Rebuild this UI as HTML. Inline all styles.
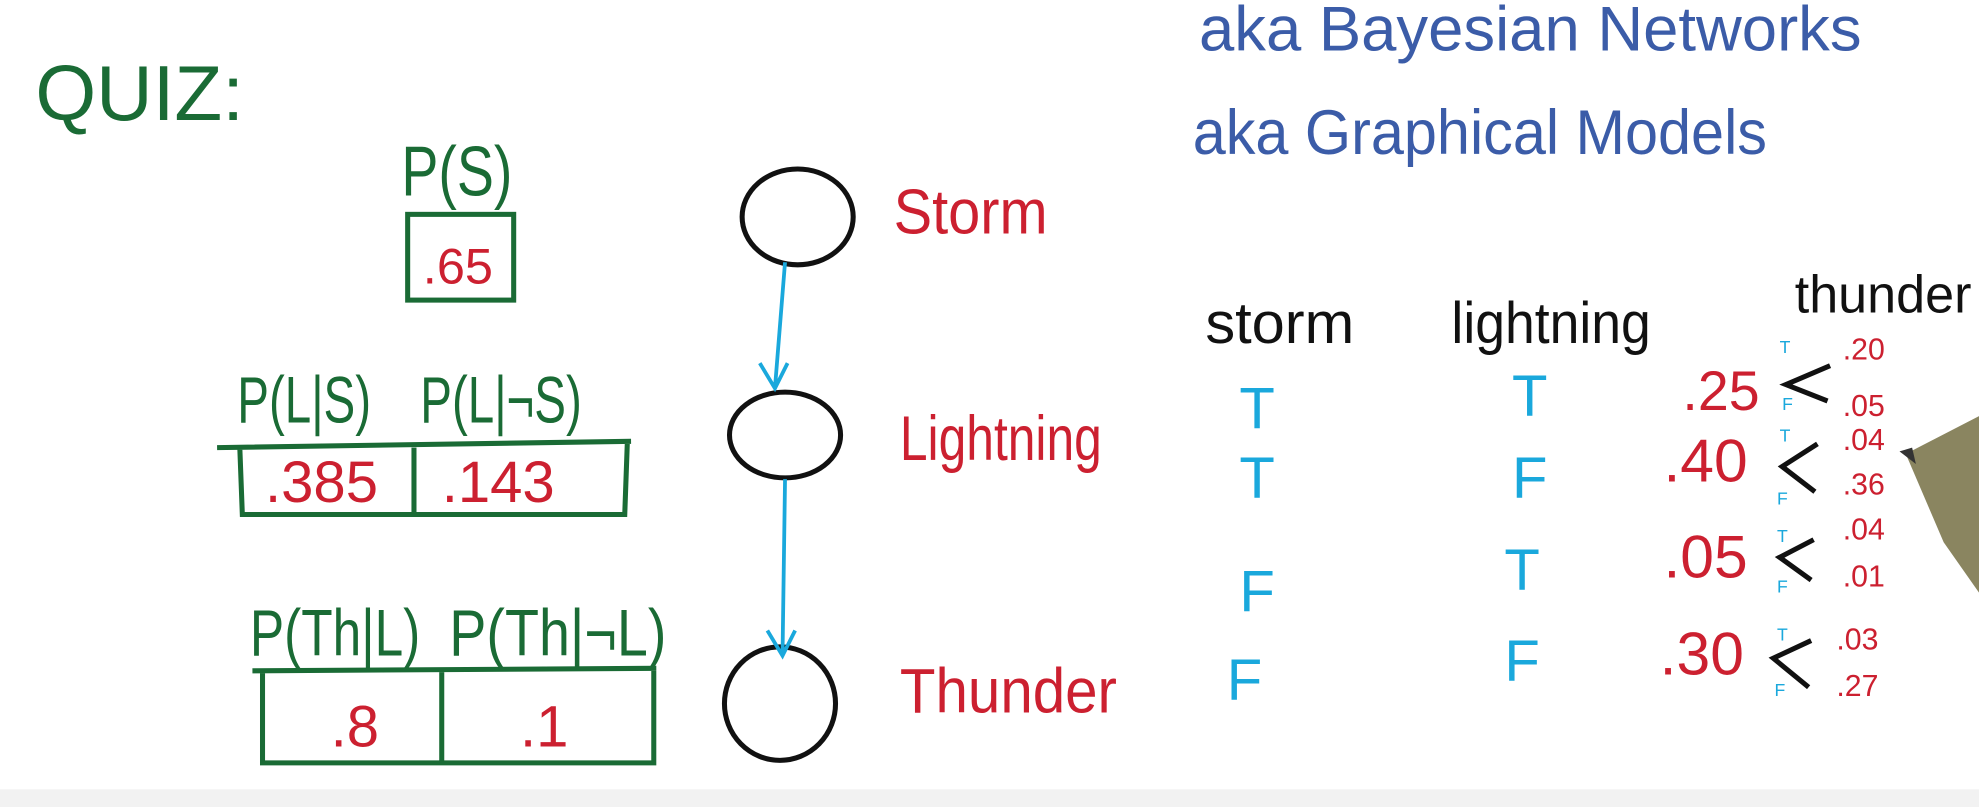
<!DOCTYPE html>
<html><head><meta charset="utf-8">
<style>
html,body{margin:0;padding:0;background:#fff;overflow:hidden}
svg{display:block}
text{font-family:"Liberation Sans",sans-serif}
</style></head>
<body>
<svg width="1979" height="807" viewBox="0 0 1568 640" preserveAspectRatio="none">
<rect x="0" y="0" width="1568" height="640" fill="#ffffff"/>
<rect x="0" y="626" width="1568" height="14" fill="#f2f2f2"/>

<g fill="#1a6b35" stroke="none">
<text x="28" y="95" font-size="62">QUIZ:</text>
<text x="318" y="155" font-size="56" textLength="88" lengthAdjust="spacingAndGlyphs">P(S)</text>
<text x="188" y="335" font-size="52" textLength="106" lengthAdjust="spacingAndGlyphs">P(L|S)</text>
<text x="333" y="335" font-size="52" textLength="128" lengthAdjust="spacingAndGlyphs">P(L|¬S)</text>
<text x="198" y="520" font-size="52" textLength="135" lengthAdjust="spacingAndGlyphs">P(Th|L)</text>
<text x="356" y="520" font-size="52" textLength="172" lengthAdjust="spacingAndGlyphs">P(Th|¬L)</text>
</g>
<g fill="none" stroke="#1a6b35" stroke-width="4">
<rect x="323" y="170" width="84" height="68"/>
<path d="M172 355 L500 350 M190 355 L192 408 L495 408 L497 352 M328 355 L328 408"/>
<path d="M200 532 L520 530 M208 532 L208 605 L518 605 L518 530 M350 532 L350 605"/>
</g>
<g fill="#cc2030">
<text x="335" y="225" font-size="40">.65</text>
<text x="210" y="398" font-size="46">.385</text>
<text x="350" y="398" font-size="46">.143</text>
<text x="262" y="592" font-size="46">.8</text>
<text x="412" y="592" font-size="46">.1</text>
<text x="708" y="185" font-size="50" textLength="122" lengthAdjust="spacingAndGlyphs">Storm</text>
<text x="713" y="365" font-size="50" textLength="160" lengthAdjust="spacingAndGlyphs">Lightning</text>
<text x="713" y="565" font-size="50" textLength="172" lengthAdjust="spacingAndGlyphs">Thunder</text>
</g>
<g fill="none" stroke="#111" stroke-width="4">
<ellipse cx="632" cy="172" rx="44" ry="38"/>
<ellipse cx="622" cy="345" rx="44" ry="34"/>
<ellipse cx="618" cy="558" rx="44" ry="45"/>
</g>
<g fill="none" stroke="#1aa8dc" stroke-width="3">
<path d="M622 208 L614 308 M602 288 L614 308 L624 288"/>
<path d="M622 380 L620 520 M608 500 L620 520 L630 500"/>
</g>
<g fill="#3b5ca8">
<text x="950" y="40" font-size="50" textLength="525" lengthAdjust="spacingAndGlyphs">aka Bayesian Networks</text>
<text x="945" y="122" font-size="50" textLength="455" lengthAdjust="spacingAndGlyphs">aka Graphical Models</text>
</g>
<g fill="#111">
<text x="955" y="272" font-size="46" textLength="118" lengthAdjust="spacingAndGlyphs">storm</text>
<text x="1150" y="272" font-size="46" textLength="158" lengthAdjust="spacingAndGlyphs">lightning</text>
<text x="1422" y="248" font-size="42" textLength="140" lengthAdjust="spacingAndGlyphs">thunder</text>
</g>
<g fill="#1aa8dc" font-size="46">
<text x="982" y="340">T</text>
<text x="1198" y="330">T</text>
<text x="982" y="395">T</text>
<text x="1198" y="395">F</text>
<text x="982" y="485">F</text>
<text x="1192" y="468">T</text>
<text x="972" y="555">F</text>
<text x="1192" y="540">F</text>
</g>
<g fill="#cc2030">
<text x="1333" y="325" font-size="44">.25</text>
<text x="1318" y="382" font-size="48">.40</text>
<text x="1318" y="458" font-size="48">.05</text>
<text x="1315" y="535" font-size="48">.30</text>
<g font-size="24">
<text x="1460" y="285">.20</text>
<text x="1460" y="330">.05</text>
<text x="1460" y="357">.04</text>
<text x="1460" y="392">.36</text>
<text x="1460" y="428">.04</text>
<text x="1460" y="465">.01</text>
<text x="1455" y="515">.03</text>
<text x="1455" y="552">.27</text>
</g>
</g>
<g fill="none" stroke="#111" stroke-width="4">
<path d="M1450 290 L1415 305 L1448 318"/>
<path d="M1440 352 L1412 370 L1438 390"/>
<path d="M1437 428 L1410 442 L1435 460"/>
<path d="M1435 508 L1405 522 L1433 545"/>
</g>
<g fill="#1aa8dc" font-size="14">
<text x="1410" y="280">T</text><text x="1412" y="325">F</text>
<text x="1410" y="350">T</text><text x="1408" y="400">F</text>
<text x="1408" y="430">T</text><text x="1408" y="470">F</text>
<text x="1408" y="508">T</text><text x="1406" y="552">F</text>
</g>
<g>
<path d="M1510 360 L1568 330 L1568 470 L1540 430 Z" fill="#8a8560"/>
<path d="M1505 358 L1515 355 L1518 368 Z" fill="#333"/>
</g>
</svg>
</body></html>
